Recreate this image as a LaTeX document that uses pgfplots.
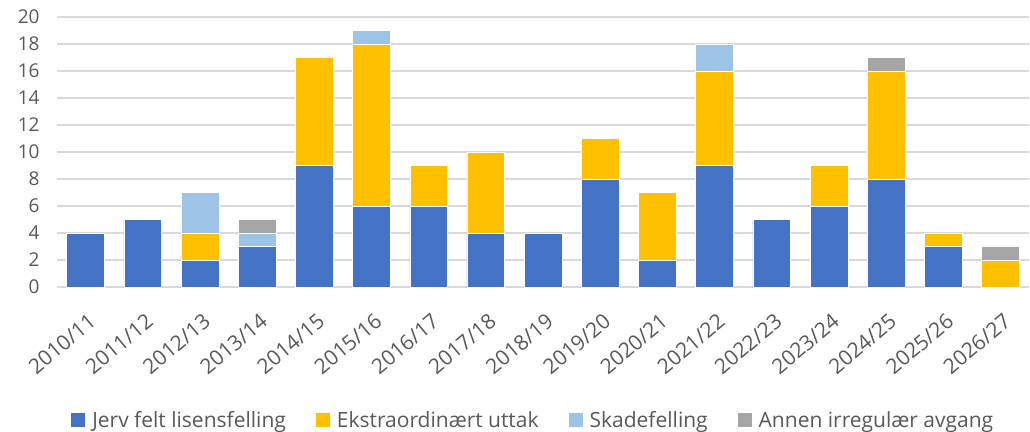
\documentclass[border=0pt]{standalone}
\usepackage{fontspec}
\setmainfont{Open Sans}
\usepackage{pgfplots}
\pgfplotsset{compat=1.18}
\definecolor{cJerv}{HTML}{4472C4}
\definecolor{cEks}{HTML}{FFC000}
\definecolor{cSka}{HTML}{9DC3E6}
\definecolor{cAnn}{HTML}{A5A5A5}
\definecolor{cTxt}{HTML}{595959}
\definecolor{cGrid}{HTML}{D9D9D9}
\begin{document}
\begin{tikzpicture}
\useasboundingbox (-57bp,-145bp) rectangle (973bp,287bp);
\begin{axis}[
  scale only axis,
  width=972bp, height=270bp,
  ybar stacked,
  bar width=0.66,
  xmin=-0.5, xmax=16.5,
  ymin=0, ymax=20,
  ytick={0,2,...,20},
  xtick={0,...,16},
  xticklabels={2010/11,2011/12,2012/13,2013/14,2014/15,2015/16,2016/17,2017/18,2018/19,2019/20,2020/21,2021/22,2022/23,2023/24,2024/25,2025/26,2026/27},
  axis line style={draw=none},
  axis x line*=bottom,
  x axis line style={draw=cGrid, line width=1.4bp},
  y axis line style={draw=none},
  major tick length=0pt,
  ymajorgrids,
  grid style={draw=cGrid, line width=1.4bp},
  tick label style={font=\fontsize{19bp}{22bp}\selectfont, text=cTxt},
  /pgf/number format/assume math mode=true,
  yticklabel style={anchor=east, xshift=-14bp},
  xticklabel style={xshift=2bp, yshift=-25bp, font=\fontsize{21bp}{24bp}\selectfont, rotate=40, anchor=north east, inner sep=0pt},
  legend style={draw=none, at={(axis description cs:0.49,-0.4926)}, anchor=center,
    font=\fontsize{21bp}{24bp}\selectfont, text=cTxt, legend columns=4,
    /tikz/every odd column/.append style={column sep=5bp},
    /tikz/every even column/.append style={column sep=28bp},
    legend cell align=left, inner sep=0pt},
  legend image code/.code={\path[#1,draw=none] (0bp,-7bp) rectangle (14bp,7bp);},
  every axis plot/.append style={draw=white, line width=0.5bp},
]
\addplot[fill=cJerv] coordinates {(0,4) (1,5) (2,2) (3,3) (4,9) (5,6) (6,6) (7,4) (8,4) (9,8) (10,2) (11,9) (12,5) (13,6) (14,8) (15,3) (16,0)};
\addplot[fill=cEks] coordinates {(0,0) (1,0) (2,2) (3,0) (4,8) (5,12) (6,3) (7,6) (8,0) (9,3) (10,5) (11,7) (12,0) (13,3) (14,8) (15,1) (16,2)};
\addplot[fill=cSka] coordinates {(0,0) (1,0) (2,3) (3,1) (4,0) (5,1) (6,0) (7,0) (8,0) (9,0) (10,0) (11,2) (12,0) (13,0) (14,0) (15,0) (16,0)};
\addplot[fill=cAnn] coordinates {(0,0) (1,0) (2,0) (3,1) (4,0) (5,0) (6,0) (7,0) (8,0) (9,0) (10,0) (11,0) (12,0) (13,0) (14,1) (15,0) (16,1)};
\legend{Jerv felt lisensfelling, Ekstraordinært uttak, Skadefelling, Annen irregulær avgang}
\end{axis}
\end{tikzpicture}
\end{document}
